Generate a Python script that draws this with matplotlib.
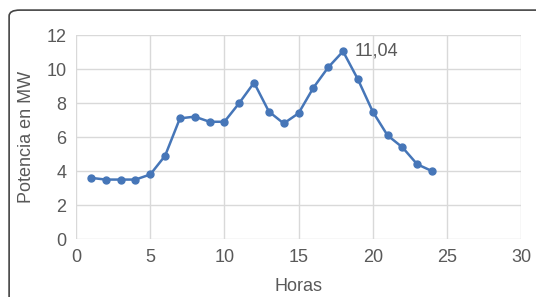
import matplotlib.pyplot as plt
from matplotlib.patches import FancyBboxPatch

# Datos
horas = [1, 2, 3, 4, 5, 6, 7, 8, 9, 10, 11, 12,
         13, 14, 15, 16, 17, 18, 19, 20, 21, 22, 23, 24]
potencia = [3.6, 3.5, 3.5, 3.5, 3.8, 4.9, 7.1, 7.2, 6.9, 6.9, 8.0, 9.2,
            7.5, 6.8, 7.4, 8.9, 10.1, 11.04, 9.4, 7.5, 6.1, 5.4, 4.4, 4.0]
x_ticks = [0, 5, 10, 15, 20, 25, 30]
y_ticks = [0, 2, 4, 6, 8, 10, 12]

GRIS = "#595959"
AZUL = "#4676b8"

plt.rcParams["font.family"] = ["Liberation Sans", "DejaVu Sans"]

fig = plt.figure(figsize=(5.36, 2.97), dpi=100)

# Marco redondeado (recortado a la derecha y abajo)
marco = FancyBboxPatch((0.017, -0.1), 1.1, 1.066,
                       boxstyle="round,pad=0,rounding_size=0.02",
                       transform=fig.transFigure, fill=False,
                       edgecolor="#444444", linewidth=1.2)
fig.patches.append(marco)

ax = fig.add_axes([0.142, 0.195, 0.83, 0.687])
ax.plot(horas, potencia, color=AZUL, linewidth=1.8, marker="o",
        markersize=5, zorder=3)

ax.set_xlim(0, 30)
ax.set_ylim(0, 12)
ax.set_xticks(x_ticks)
ax.set_yticks(y_ticks)
ax.grid(True, color="#d9d9d9", linewidth=1)
for s in ax.spines.values():
    s.set_visible(False)
ax.tick_params(length=0, labelsize=13, colors=GRIS, pad=7)

ax.set_xlabel("Horas", fontsize=13, color=GRIS, labelpad=9)
ax.set_ylabel("Potencia en MW", fontsize=13, color=GRIS, labelpad=8)

i_max = potencia.index(max(potencia))
ax.annotate(f"{potencia[i_max]:.2f}".replace(".", ","),
            (horas[i_max], potencia[i_max]),
            xytext=(8, 0), textcoords="offset points",
            va="center", ha="left", fontsize=13, color=GRIS)

fig.savefig("out.png", dpi=100)
